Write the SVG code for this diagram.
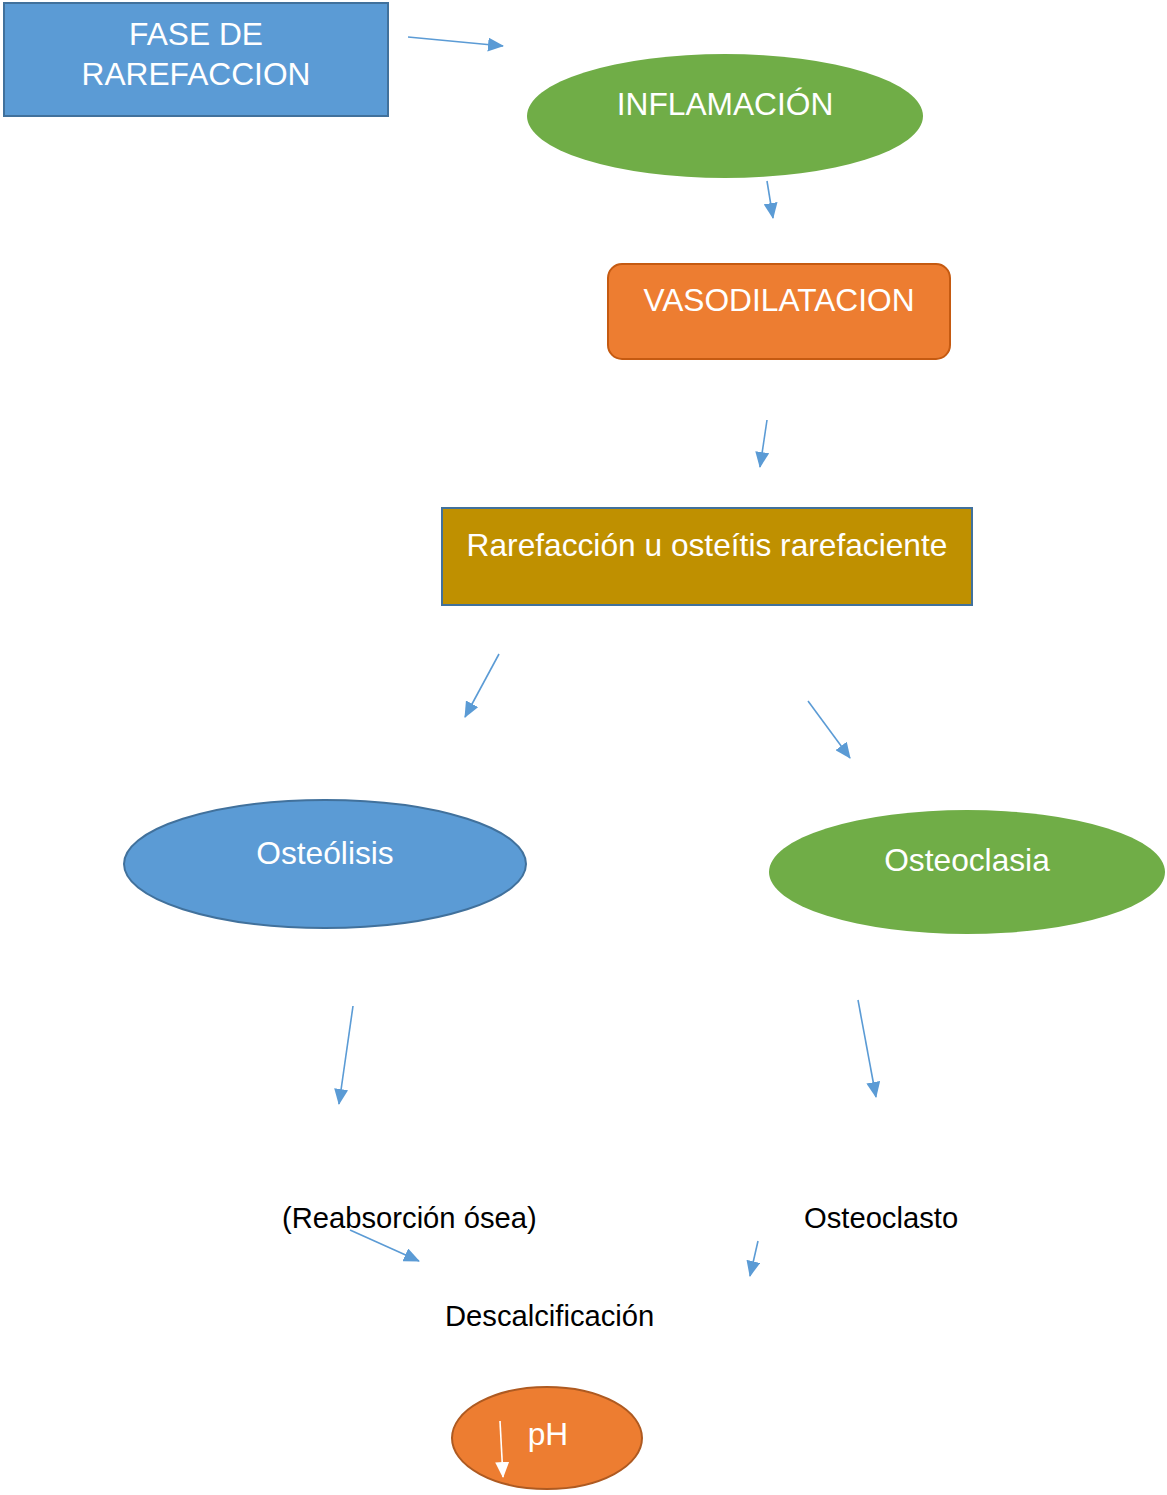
<svg xmlns="http://www.w3.org/2000/svg" width="1167" height="1495" viewBox="0 0 1167 1495">
<style>
.w{fill:#fff;font-family:"Liberation Sans",Arial,sans-serif;font-size:31.7px;text-anchor:middle}
.b{fill:#000;font-family:"Liberation Sans",Arial,sans-serif;font-size:29.2px}
.c{stroke:#5B9BD5;stroke-width:1.6;fill:none}
</style>
<defs>
<marker id="ah" markerUnits="userSpaceOnUse" markerWidth="16" markerHeight="14" refX="15" refY="7" orient="auto"><path d="M0,0 L16,7 L0,14 z" fill="#5B9BD5"/></marker>
<marker id="ahw" markerUnits="userSpaceOnUse" markerWidth="16" markerHeight="14" refX="15" refY="7" orient="auto"><path d="M0,0 L16,7 L0,14 z" fill="#fff"/></marker>
</defs>
<rect width="1167" height="1495" fill="#fff"/>
<g id="fase">
<rect x="4" y="3" width="384" height="113" fill="#5B9BD5" stroke="#41719C" stroke-width="2"/>
<text class="w" x="196" y="45">FASE DE</text>
<text class="w" x="196" y="85">RAREFACCION</text>
</g>
<g id="inflamacion">
<ellipse cx="725" cy="116" rx="198" ry="62" fill="#70AD47"/>
<text class="w" x="725" y="115">INFLAMACIÓN</text>
</g>
<g id="vasodilatacion">
<rect x="608" y="264" width="342" height="95" rx="14" fill="#ED7D31" stroke="#C55A11" stroke-width="2"/>
<text class="w" x="779" y="311">VASODILATACION</text>
</g>
<g id="rarefaccion">
<rect x="442" y="508" width="530" height="97" fill="#BF9000" stroke="#41719C" stroke-width="2"/>
<text class="w" x="707" y="556">Rarefacción u osteítis rarefaciente</text>
</g>
<g id="osteolisis">
<ellipse cx="325" cy="864" rx="201" ry="64" fill="#5B9BD5" stroke="#41719C" stroke-width="2"/>
<text class="w" x="325" y="864">Osteólisis</text>
</g>
<g id="osteoclasia">
<ellipse cx="967" cy="872" rx="198" ry="62" fill="#70AD47"/>
<text class="w" x="967" y="871">Osteoclasia</text>
</g>
<g id="reabsorcion">
<text class="b" x="282" y="1228">(Reabsorción ósea)</text>
</g>
<g id="osteoclasto">
<text class="b" x="804" y="1228">Osteoclasto</text>
</g>
<g id="descalcificacion">
<text class="b" x="445" y="1326">Descalcificación</text>
</g>
<g id="ph">
<ellipse cx="547" cy="1438" rx="95" ry="51" fill="#ED7D31" stroke="#AE5A21" stroke-width="2"/>
<text class="w" x="548" y="1445">pH</text>
<line x1="500" y1="1421" x2="503" y2="1477" stroke="#fff" stroke-width="1.6" marker-end="url(#ahw)"/>
</g>
<g id="connectors">
<line class="c" x1="408" y1="37" x2="503" y2="46" marker-end="url(#ah)"/>
<line class="c" x1="767" y1="181" x2="773" y2="218" marker-end="url(#ah)"/>
<line class="c" x1="767" y1="420" x2="760" y2="467" marker-end="url(#ah)"/>
<line class="c" x1="499" y1="654" x2="465" y2="717" marker-end="url(#ah)"/>
<line class="c" x1="808" y1="701" x2="850" y2="758" marker-end="url(#ah)"/>
<line class="c" x1="353" y1="1006" x2="339" y2="1104" marker-end="url(#ah)"/>
<line class="c" x1="858" y1="1000" x2="876" y2="1097" marker-end="url(#ah)"/>
<line class="c" x1="350" y1="1230" x2="419" y2="1261" marker-end="url(#ah)"/>
<line class="c" x1="758" y1="1241" x2="750" y2="1276" marker-end="url(#ah)"/>
</g>
</svg>
